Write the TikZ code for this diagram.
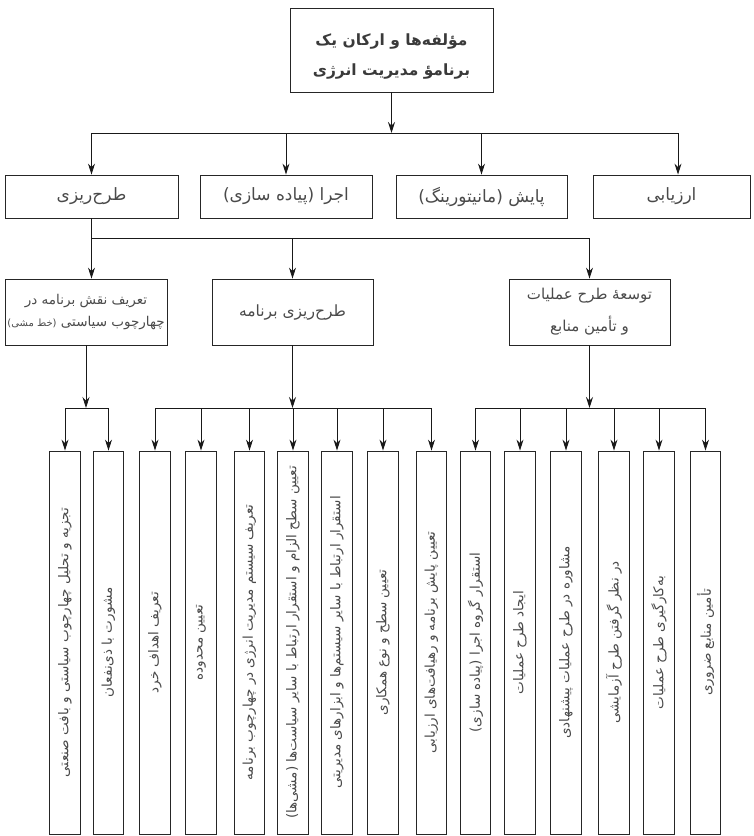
\documentclass[tikz,border=0pt]{standalone}
\usepackage{fontspec}
\usepackage{graphicx}
\usetikzlibrary{arrows.meta}
\newfontfamily\farsi[Script=Arabic]{DejaVu Sans}
\TeXXeTstate=1
\newcommand{\fa}[1]{{\farsi\beginR #1\endR}}
\definecolor{txt}{HTML}{4A4A4A}
\definecolor{ttl}{HTML}{3A3A3A}
\begin{document}
\begin{tikzpicture}[x=1pt,y=-1pt,
  box/.style={draw=black!85, line width=0.9pt, inner sep=1pt, text=txt, align=center},
  con/.style={draw=black!90, line width=0.8pt},
  arr/.style={con, -{Stealth[length=11pt,width=7pt]}},
  lvtwo/.style={box, font=\fontsize{17}{22}\selectfont, minimum height=43pt},
  lvthree/.style={box, font=\fontsize{15.5}{22}\selectfont, minimum height=66pt, minimum width=161pt},
  leaf/.style={box, minimum width=30.5pt, minimum height=383pt, font=\fontsize{13.5}{15}\selectfont},
  ttltext/.style={text=ttl, align=center, inner sep=0pt, font=\bfseries\fontsize{15.5}{30}\selectfont},
]
\useasboundingbox (0,0) rectangle (753,836);
% top
\node[box, minimum width=203pt, minimum height=84pt] (T) at (391.5,50) {};
\node[ttltext] (Ttxt) at (391.5,57)
  {\fa{مؤلفه‌ها و ارکان یک}\\\fa{برنامؤ مدیریت انرژی}};
% level 2
\node[lvtwo, minimum width=173pt] (A1) at (91.5,196.5) {\fa{طرح‌ریزی}};
\node[lvtwo, minimum width=172pt] (A2) at (286,196.5) {\fa{اجرا (پیاده سازی)}};
\node[lvtwo, minimum width=171pt] (A3) at (481.5,196.5) {\fa{پایش (مانیتورینگ)}};
\node[lvtwo, minimum width=157pt] (A4) at (671.5,196.5) {\fa{ارزیابی}};
\coordinate (bus1) at (0,133);
\coordinate (a4x) at (678,133);
\draw[arr] (T.south) -- (T.south |- bus1);
\draw[con] (A1.north |- bus1) -- (a4x);
\foreach \n in {A1,A2,A3} \draw[arr] (\n.north |- bus1) -- (\n.north);
\draw[arr] (a4x) -- (a4x |- A4.north);
% level 3
\node[lvthree, minimum width=162pt, font=\fontsize{13.5}{22}\selectfont] (B1) at (86,312)
  {\fa{تعریف نقش برنامه در}\\\fa{چهارچوب سیاستی {\fontsize{10}{12}\selectfont(خط مشی)}}};
\node[lvthree] (B2) at (292.5,312) {\fa{طرح‌ریزی برنامه}};
\node[lvthree, font=\fontsize{15}{32}\selectfont] (B3) at (589.5,312) {\fa{توسعهٔ طرح عملیات}\\\fa{و تأمین منابع}};
\coordinate (bus2) at (0,238);
\draw[con] (A1.south) -- (A1.south |- bus2) -- (B3.north |- bus2);
\draw[arr] (A1.south |- bus2) -- (A1.south |- B1.north);
\draw[arr] (B2.north |- bus2) -- (B2.north);
\draw[arr] (B3.north |- bus2) -- (B3.north);
% leaves
\foreach \i/\x/\t in {
  1/65/{تجزیه و تحلیل چهارچوب سیاستی و بافت صنعتی},
  2/108.5/{مشورت با ذی‌نفعان},
  3/155/{تعریف اهداف خرد},
  4/201/{تعیین محدوده},
  5/249.5/{تعریف سیستم مدیریت انرژی در چهارچوب برنامه},
  6/293/{تعیین سطح الزام و استقرار ارتباط با سایر سیاست‌ها (مشی‌ها)},
  7/337/{استقرار ارتباط با سایر سیستم‌ها و ابزارهای مدیریتی},
  8/383/{تعیین سطح و نوع همکاری},
  9/431.5/{تعیین پایش برنامه و رهیافت‌های ارزیابی},
  10/475.5/{استقرار گروه اجرا (پیاده سازی)},
  11/520/{ایجاد طرح عملیات},
  12/566/{مشاوره در طرح عملیات پیشنهادی},
  13/614/{در نظر گرفتن طرح آزمایشی},
  14/659/{به‌کارگیری طرح عملیات},
  15/705.5/{تأمین منابع ضروری}}
  \node[leaf] (L\i) at (\x,642.5) {\rotatebox{90}{\fa{\t}}};
\coordinate (bus3) at (0,408);
\foreach \b in {B1,B2,B3} \draw[arr] (\b.south) -- (\b.south |- bus3);
\draw[con] (L1.north |- bus3) -- (L2.north |- bus3);
\draw[con] (L3.north |- bus3) -- (L9.north |- bus3);
\draw[con] (L10.north |- bus3) -- (L15.north |- bus3);
\foreach \i in {1,...,15} \draw[arr] (L\i.north |- bus3) -- (L\i.north);
\end{tikzpicture}
\end{document}
